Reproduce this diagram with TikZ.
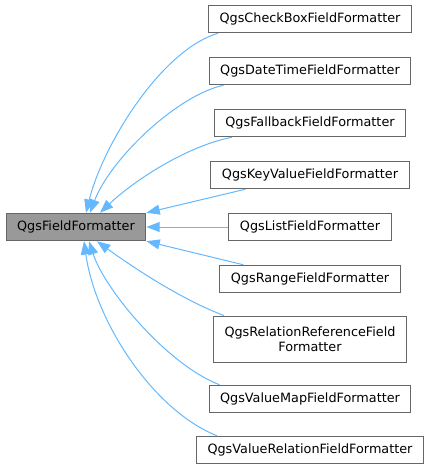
\documentclass[tikz,border=0pt]{standalone}
\usepackage{fontspec}
\setmainfont{DejaVu Sans}
\usepackage{tikz}
\usetikzlibrary{arrows.meta,calc}
\definecolor{herblue}{HTML}{63B8FF}
\definecolor{cadregris}{HTML}{666666}
\definecolor{fondgris}{HTML}{999999}

\begin{document}
\begin{tikzpicture}[
    x=0.75pt, y=-0.75pt,
    font=\fontsize{9.6}{11.25}\selectfont,
    racine/.style={rectangle, draw=cadregris, line width=0.75pt, fill=fondgris,
      minimum height=20.6pt, inner xsep=8.3pt, inner ysep=5pt},
    classe/.style={rectangle, draw=cadregris, line width=0.75pt, fill=white,
      minimum height=20.6pt, inner xsep=8.3pt, inner ysep=5pt, align=center},
    herit/.style={draw=herblue, line width=0.75pt, -{Triangle[length=10pt,width=7.5pt]}}
  ]
    \useasboundingbox (0,0) rectangle (431,470);

    \node[racine] (base) at (76,227) {QgsFieldFormatter};

    \node[classe] (ck) at (310,19)  {QgsCheckBoxFieldFormatter};
    \node[classe] (dt) at (310,71)  {QgsDateTimeFieldFormatter};
    \node[classe] (fb) at (310,123) {QgsFallbackFieldFormatter};
    \node[classe] (kv) at (310,175) {QgsKeyValueFieldFormatter};
    \node[classe] (ls) at (310,227) {QgsListFieldFormatter};
    \node[classe] (rg) at (310,279) {QgsRangeFieldFormatter};
    \node[classe, minimum height=34.5pt] (rr) at (310,339) {QgsRelationReferenceField\\Formatter};
    \node[classe] (vm) at (310,399) {QgsValueMapFieldFormatter};
    \node[classe] (vr) at (310,450) {QgsValueRelationFieldFormatter};

    \draw[herit] ($(ck.south west)+(10,0)$) .. controls +(-57,17) and +(17,-68) .. ($(base.north)+(10,0)$);
    \draw[herit] ($(dt.south west)+(15,0)$) .. controls +(-47,10) and +(20,-53) .. ($(base.north)+(14,0)$);
    \draw[herit] ($(fb.south west)+(18,0)$) .. controls +(-45,9) and +(35,-33) .. ($(base.north)+(24,0)$);
    \draw[herit] ($(kv.south west)+(35,0)$) -- (base.north east);
    \draw[herit] (ls.west) -- (base.east);
    \draw[herit] ($(rg.north west)+(24,0)$) -- (base.south east);
    \draw[herit] ($(rr.north west)+(11,0)$) .. controls +(-43,-16) and +(33,24) .. ($(base.south)+(21,0)$);
    \draw[herit] ($(vm.north west)+(11,0)$) .. controls +(-52,-20) and +(16,49) .. ($(base.south)+(13,0)$);
    \draw[herit] ($(vr.north west)+(21,0)$) .. controls +(-65,-26) and +(11,79) .. ($(base.south)+(8,0)$);
  \end{tikzpicture}
\end{document}
